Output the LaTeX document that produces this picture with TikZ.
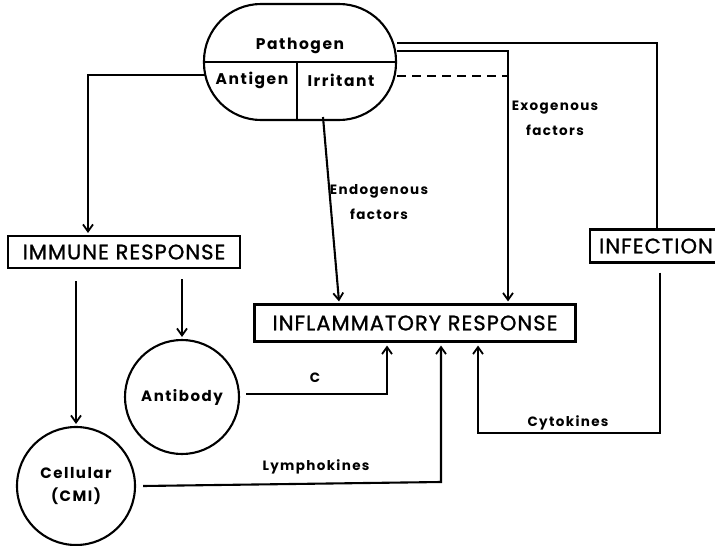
\documentclass[tikz,border=0pt]{standalone}
\usepackage{fontspec}
\setmainfont{Poppins}
\newfontfamily\boxfont[FakeBold=1.2,LetterSpace=5]{Poppins}
\newfontfamily\lblfont[LetterSpace=10]{Poppins}
\usetikzlibrary{arrows.meta,calc}
\begin{document}
\begin{tikzpicture}[x=1pt,y=-1pt, line width=2.1pt,
  arr/.style={-{Straight Barb[length=7pt,width=10pt,line width=1.8pt]}},
  box/.style={draw, inner sep=0pt, font=\boxfont\fontsize{21}{23}\selectfont},
  lbl/.style={font=\lblfont\bfseries\fontsize{13.5}{25}\selectfont, align=center},
  circ/.style={draw, circle, inner sep=0pt, align=center, font=\lblfont\bfseries\fontsize{15}{23}\selectfont},
  ptxt/.style={font=\lblfont\bfseries\fontsize{15.5}{17}\selectfont}]
\useasboundingbox (0,0) rectangle (715,546);
% pathogen
\node[draw, rounded corners=57pt, minimum width=192pt, minimum height=116pt] (pg) at (300,62) {};
\node[ptxt] (pathogen) at (300,46) {Pathogen};
\node[ptxt] (antigen) at (252,80) {Antigen};
\node[ptxt] (irritant) at (341,80) {Irritant};
\draw (pg.west) -- (pg.east);
\draw ($(pg.south)+(-3,0)$) -- ($(pg.center)+(-3,0)$);
% boxes
\node[box, minimum width=232pt, minimum height=32pt] (imm) at (124,252) {IMMUNE RESPONSE};
\node[box, minimum width=321pt, minimum height=37pt] (inf) at (415,323) {INFLAMMATORY RESPONSE};
\node[box, minimum width=132pt, minimum height=33pt] (infx) at (656,246) {INFECTION};
% circles
\node[circ, minimum size=114pt] (ab) at (182,397) {Antibody};
\node[circ, minimum size=118pt] (cell) at (76,486) {Cellular\\(CMI)};
% connectors from pathogen
\coordinate (pl) at (206,75);
\draw[arr] (pl) -| ($(imm.north)+(-36,-2)$);
\coordinate (pe) at (323,117);
\draw[arr] (pe) -- ($(inf.north)+(-76,-2)$);
\coordinate (r1) at (397,43);
\coordinate (r2) at (397,51);
\coordinate (r3) at (397,76);
\draw (r1) -| ($(infx.north)+(1,0)$);
\draw[arr] (r2) -| ($(inf.north)+(93,-2)$);
\draw[dashed, dash pattern=on 9pt off 6pt] (r3) -- (508,76);
% into inflammatory from below
\draw[arr] ($(ab.east)+(6,-3)$) -| ($(inf.south)+(-28,3)$);
\draw[arr] ($(cell.east)+(7,0)$) -- (441,482) -- ($(inf.south)+(26,3)$);
\draw[arr] ($(infx.south)+(4,9)$) -- (660,433) -| ($(inf.south)+(63,3)$);
% immune down
\draw[arr] ($(imm.south)+(-48,12)$) -- ($(cell.north)+(0,-2)$);
\draw[arr] ($(imm.south)+(58,10)$) -- ($(ab.north)+(0,-2)$);
% labels
\node[lbl] (endo) at (379,202) {Endogenous\\factors};
\node[lbl] (exo) at (555,118) {Exogenous\\factors};
\node[lbl] (c) at (315,378) {C};
\node[lbl] (lym) at (316,467) {Lymphokines};
\node[lbl] (cyt) at (568,423) {Cytokines};
\end{tikzpicture}
\end{document}
